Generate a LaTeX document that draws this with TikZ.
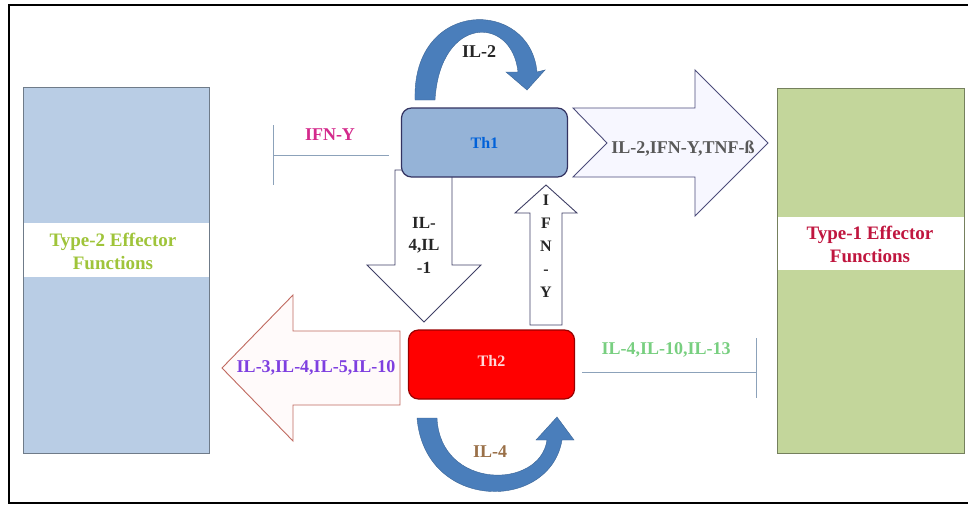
\documentclass[tikz,border=0pt]{standalone}
\usepackage{fontspec}
\setmainfont{Liberation Serif}
\definecolor{boxblue}{HTML}{B9CDE5}
\definecolor{boxgreen}{HTML}{C3D69B}
\definecolor{thone}{HTML}{95B3D7}
\definecolor{arcblue}{HTML}{4A7EBB}
\definecolor{inhib}{HTML}{8CA2BA}
\definecolor{txtgreen}{HTML}{9FC43A}
\definecolor{txtcrimson}{HTML}{C0163F}
\definecolor{txtmag}{HTML}{D42A8C}
\definecolor{txtpurple}{HTML}{7E3FE0}
\definecolor{txtlgreen}{HTML}{78CF80}
\definecolor{txtbrown}{HTML}{9A7048}
\definecolor{txtgray}{HTML}{595959}
\definecolor{leftedge}{HTML}{C06A60}
\begin{document}
\begin{tikzpicture}[x=1pt,y=-1pt,
  lbl/.style={font=\fontsize{18}{21}\selectfont\bfseries, inner sep=0pt},
  efftxt/.style={inner sep=0pt, align=center, font=\fontsize{19}{23}\selectfont\bfseries},
  effbox/.style={draw=#1!60!black, line width=1pt, minimum width=186pt, minimum height=366pt, inner sep=0pt},
  thbox/.style={rounded corners=10pt, line width=1.2pt, minimum width=166pt, minimum height=69pt, inner sep=0pt},
  bigarrow/.style={line width=0.9pt, line join=miter},
  inhibline/.style={draw=inhib, line width=1pt},
  curved/.style={fill=arcblue, draw=arcblue!80!black, line width=0.4pt}]
\useasboundingbox (0,0) rectangle (968,506);
\fill[white] (0,0) rectangle (968,506);
% frame
\draw[line width=2pt] (968,5) -- (9,5) -- (9,503) -- (968,503);

% effector boxes
\node[effbox=boxblue, fill=boxblue] (t2box) at (116,270) {};
\fill[white] (23.5,223) rectangle (208.5,277);
\node[efftxt, text=txtgreen] (t2txt) at (113,251) {Type-2 Effector\\Functions};

\node[effbox=boxgreen, fill=boxgreen, minimum width=187pt, minimum height=365pt] (t1box) at (870.5,270.5) {};
\fill[white] (777.5,217) rectangle (963.5,270);
\node[efftxt, text=txtcrimson] (t1txt) at (870,244) {Type-1 Effector\\Functions};

% big block arrows
\draw[bigarrow, draw=black!55!blue!40!gray, fill=blue!3] (573,108) -- (695,108) -- (695,70) -- (768,143) -- (695,216) -- (695,177) -- (573,177) -- (607,143) -- cycle;
\node[lbl, text=txtgray] (cyt1) at (683,149) {IL-2,IFN-Y,TNF-ß};

\draw[bigarrow, draw=black!70!blue!50!gray, fill=white] (395,170) -- (395,265) -- (367,265) -- (424,322) -- (481,265) -- (452,265) -- (452,170) -- cycle;
\node[lbl, align=center, font=\fontsize{17}{22.5}\selectfont\bfseries, text=black!85] (cyt2) at (424,245) {IL-\\4,IL\\-1};

\draw[bigarrow, draw=black!70!blue!50!gray, fill=white] (530,325) -- (530,213) -- (515,213) -- (546,185) -- (577,213) -- (562,213) -- (562,325) -- cycle;
\node[lbl, align=center, font=\fontsize{16}{23}\selectfont\bfseries, text=black!85] (cyt3) at (546,246) {I\\F\\N\\-\\Y};

\draw[bigarrow, draw=leftedge, fill=red!2] (400,331) -- (293,331) -- (293,295) -- (222,368) -- (293,441) -- (293,405) -- (400,405) -- cycle;
\node[lbl, text=txtpurple] (cyt4) at (316,368) {IL-3,IL-4,IL-5,IL-10};

% Th boxes
\node[thbox, draw=black!70!blue!60!gray, fill=thone] (th1) at (484.5,142.5) {};
\node[lbl, text=blue!55!cyan!85!black, font=\fontsize{16}{19}\selectfont\bfseries] at (th1) {Th1};
\node[thbox, draw=red!60!black, fill=red] (th2) at (491.5,364.5) {};
\node[lbl, text=red!15, font=\fontsize{16}{19}\selectfont\bfseries] at ([yshift=4pt]th2) {Th2};

% curved self arrows
\path[curved] (415,100) .. controls (412,-2) and (530,-2) .. (537,72)
  -- (545,70) -- (527,90) -- (506,72) -- (518,72)
  .. controls (512,15) and (440,15) .. (435,100) -- cycle;
\node[lbl, text=black!85] (il2) at (479,52) {IL-2};

\path[curved] (417,418) .. controls (425,512) and (550,512) .. (562,440)
  -- (574,440) -- (557,417) -- (536,440) -- (547,440)
  .. controls (540,490) and (440,490) .. (437,418) -- cycle;
\node[lbl, text=txtbrown] (il4) at (490,452) {IL-4};

% inhibition lines
\coordinate (inh1) at (273,155);
\draw[inhibline] (th1.west |- 0,155) ++(-12,0) coordinate (s1) -- (inh1);
\draw[inhibline] (273,125) -- (273,185);
\node[lbl, text=txtmag] (ifn) at (330,135) {IFN-Y};

\coordinate (inh2) at (756,372);
\draw[inhibline] (th2.east |- 0,372) ++(7,0) coordinate (s2) -- (inh2);
\draw[inhibline] (756,338) -- (756,398);
\node[lbl, text=txtlgreen] (cyt5) at (666,350) {IL-4,IL-10,IL-13};
\end{tikzpicture}
\end{document}
